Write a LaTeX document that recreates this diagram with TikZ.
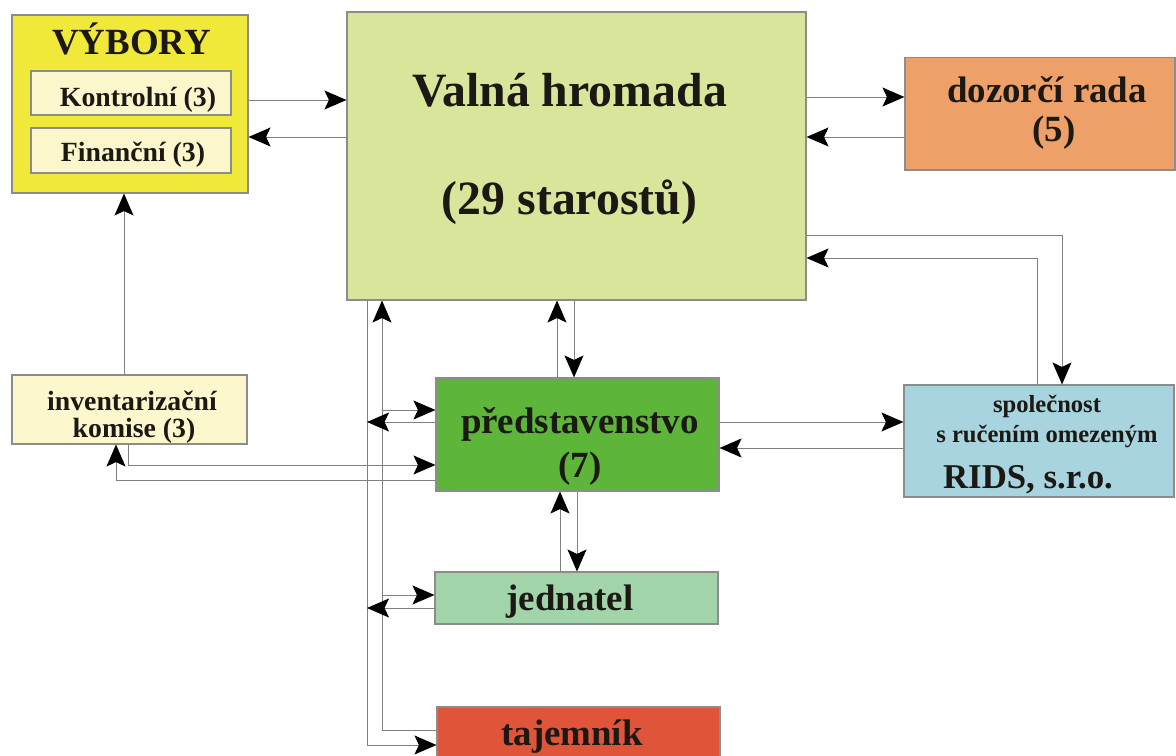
\documentclass[tikz,border=0pt]{standalone}
\usepackage{fontspec}
\setmainfont{Liberation Serif}
\usetikzlibrary{arrows.meta}
\definecolor{vyborycol}{HTML}{F0E93A}
\definecolor{subcol}{HTML}{FBF6CC}
\definecolor{valnacol}{HTML}{D9E59A}
\definecolor{dozorcicol}{HTML}{EDA068}
\definecolor{inventarcol}{HTML}{FCF7CD}
\definecolor{predstcol}{HTML}{5DB53A}
\definecolor{ridscol}{HTML}{A8D4E0}
\definecolor{jednatelcol}{HTML}{A2D4AA}
\definecolor{tajemnikcol}{HTML}{E0553A}
\definecolor{boxline}{HTML}{8C8C8C}
\definecolor{connline}{HTML}{808080}
\definecolor{textcol}{HTML}{1C1814}
\begin{document}
\begin{tikzpicture}[scale=0.2]
            \tikzstyle{every node}+=[inner sep=0pt]
            \tikzstyle{box}=[draw=boxline, line width=0.6pt, rectangle]
            \tikzstyle{txt}=[anchor=base, text=textcol]
            \tikzstyle{conn}=[draw=connline, line width=0.55pt, -{Stealth[length=4.4mm,width=3.8mm,inset=0.9mm,color=black,fill=black]}]
            \useasboundingbox (0,0) rectangle (117.6,-75.6);
            \node (vybory) [box, fill=vyborycol, minimum width=4.72cm, minimum height=3.56cm] at (13,-10.4) {};
            \node (kontrolni) [box, fill=subcol, minimum width=4cm, minimum height=0.88cm] at (13.1,-9.3) {};
            \node (financni) [box, fill=subcol, minimum width=4cm, minimum height=0.9cm] at (13.1,-15.05) {};
            \node (valna) [box, fill=valnacol, minimum width=9.18cm, minimum height=5.76cm] at (57.65,-15.6) {};
            \node (dozorci) [box, fill=dozorcicol, minimum width=5.4cm, minimum height=2.25cm] at (104,-11.375) {};
            \node (inventar) [box, fill=inventarcol, minimum width=4.7cm, minimum height=1.38cm] at (12.95,-40.95) {};
            \node (predst) [box, fill=predstcol, minimum width=5.66cm, minimum height=2.26cm] at (57.75,-43.45) {};
            \node (rids) [box, fill=ridscol, minimum width=5.4cm, minimum height=2.24cm] at (103.9,-44.1) {};
            \node (jednatel) [box, fill=jednatelcol, minimum width=5.66cm, minimum height=1.04cm] at (57.65,-59.8) {};
            \node (tajemnik) [box, fill=tajemnikcol, minimum width=5.66cm, minimum height=1.04cm] at (57.85,-73.3) {};
            \node (vybory-t) [txt, font=\bfseries\fontsize{21}{25}\selectfont] at (13.15,-5.5) {VÝBORY};
            \node (kontrolni-t) [txt, font=\bfseries\fontsize{15.8}{19}\selectfont] at (13.8,-10.65) {Kontrolní (3)};
            \node (financni-t) [txt, font=\bfseries\fontsize{15.8}{19}\selectfont] at (13.3,-16.2) {Finanční (3)};
            \node (valna-a) [txt, font=\bfseries\fontsize{27.2}{32}\selectfont] at (56.95,-10.7) {Valná hromada};
            \node (valna-b) [txt, font=\bfseries\fontsize{27.2}{32}\selectfont] at (56.95,-21.5) {(29 starostů)};
            \node (dozorci-a) [txt, font=\bfseries\fontsize{21}{25}\selectfont] at (104.7,-10.3) {dozorčí rada};
            \node (dozorci-b) [txt, font=\bfseries\fontsize{21}{25}\selectfont] at (105.4,-14.2) {(5)};
            \node (inventar-a) [txt, font=\bfseries\fontsize{15.8}{19}\selectfont] at (13.2,-41) {inventarizační};
            \node (inventar-b) [txt, font=\bfseries\fontsize{15.8}{19}\selectfont] at (13.4,-43.7) {komise (3)};
            \node (predst-a) [txt, font=\bfseries\fontsize{21}{25}\selectfont] at (58,-43.3) {představenstvo};
            \node (predst-b) [txt, font=\bfseries\fontsize{21}{25}\selectfont] at (58,-47.7) {(7)};
            \node (rids-a) [txt, font=\bfseries\fontsize{14}{17}\selectfont] at (104.7,-41.2) {společnost};
            \node (rids-b) [txt, font=\bfseries\fontsize{14}{17}\selectfont] at (104.7,-44.2) {s ručením omezeným};
            \node (rids-c) [txt, font=\bfseries\fontsize{19.8}{24}\selectfont] at (102.8,-48.8) {RIDS, s.r.o.};
            \node (jednatel-t) [txt, font=\bfseries\fontsize{21}{25}\selectfont] at (57,-61) {jednatel};
            \node (tajemnik-t) [txt, font=\bfseries\fontsize{21}{25}\selectfont] at (57.2,-74.5) {tajemník};
            \coordinate (busout) at (36.7,0);
            \coordinate (busin) at (38.2,0);
            \draw [conn] (vybory.east |- 0,-10) -- (valna.west |- 0,-10);
            \draw [conn] (valna.west |- 0,-13.7) -- (vybory.east |- 0,-13.7);
            \draw [conn] (inventar.north -| 12.4,0) -- (vybory.south -| 12.4,0);
            \draw [conn] (valna.east |- 0,-9.7) -- (dozorci.west |- 0,-9.7);
            \draw [conn] (dozorci.west |- 0,-13.7) -- (valna.east |- 0,-13.7);
            \draw [conn] (valna.east |- 0,-23.5) -| (rids.north -| 106.2,0);
            \draw [conn] (rids.north -| 103.7,0) |- (valna.east |- 0,-25.8);
            \draw [conn] (predst.north -| 55.7,0) -- (valna.south -| 55.7,0);
            \draw [conn] (valna.south -| 57.4,0) -- (predst.north -| 57.4,0);
            \draw [conn] (jednatel.north -| 56,0) -- (predst.south -| 56,0);
            \draw [conn] (predst.south -| 57.7,0) -- (jednatel.north -| 57.7,0);
            \draw [conn] (predst.east |- 0,-42.2) -- (rids.west |- 0,-42.2);
            \draw [conn] (rids.west |- 0,-44.8) -- (predst.east |- 0,-44.8);
            \draw [conn] (valna.south -| busout) |- (tajemnik.west |- 0,-74.5);
            \draw [conn] (tajemnik.west |- 0,-73) -| (valna.south -| busin);
            \draw [conn] (busin |- 0,-41) -- (predst.west |- 0,-41);
            \draw [conn] (predst.west |- 0,-42.2) -- (busout |- 0,-42.2);
            \draw [conn] (busin |- 0,-59.5) -- (jednatel.west |- 0,-59.5);
            \draw [conn] (jednatel.west |- 0,-60.8) -- (busout |- 0,-60.8);
            \draw [conn] (inventar.south -| 12.8,0) |- (predst.west |- 0,-46.5);
            \draw [conn] (predst.west |- 0,-48) -| (inventar.south -| 11.6,0);
\end{tikzpicture}
\end{document}
